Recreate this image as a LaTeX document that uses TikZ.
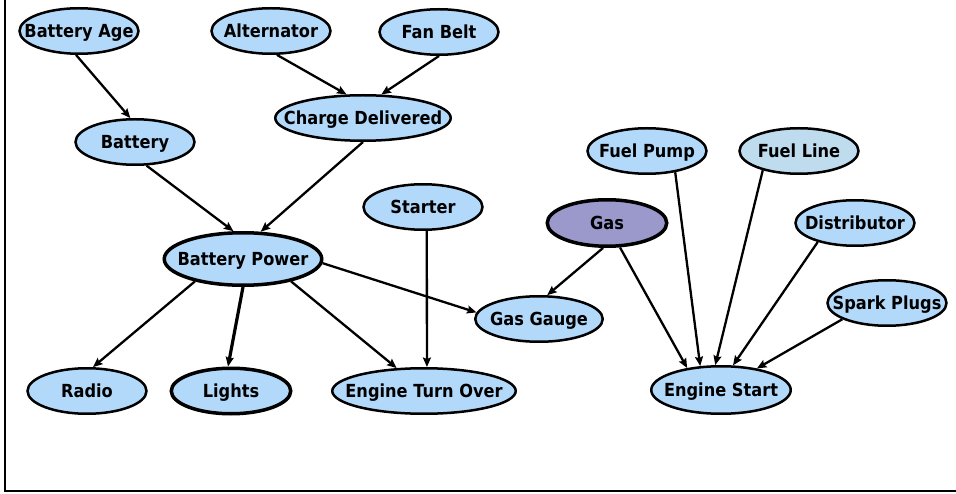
\documentclass[tikz,border=0pt]{standalone}
\usepackage{fontspec}
\setmainfont{DejaVu Sans}[FakeStretch=0.9]
\usetikzlibrary{shapes.geometric,arrows.meta}
\definecolor{varblue}{RGB}{178,217,250}
\definecolor{lineblue}{RGB}{190,220,238}
\definecolor{gaspurple}{RGB}{155,152,204}
\newcommand{\varlabel}[1]{\makebox[0pt][c]{#1}}
\begin{document}
\begin{tikzpicture}[x=1pt,y=-1pt,
  var/.style={ellipse, draw=black, line width=2.5pt, fill=varblue, inner sep=0pt,
    minimum width=119pt, minimum height=45.5pt, text height=13.6pt, text depth=0pt,
    font=\bfseries\fontsize{18}{21}\selectfont},
  key/.style={var, line width=3.5pt},
  link/.style={line width=2.3pt, -{Stealth[length=9.5pt,width=8pt,inset=1.5pt]}},
  strong/.style={link, line width=3.2pt}]
\useasboundingbox (0,0) rectangle (956,494);

% frame
\draw[line width=2pt] (4.5,0) -- (4.5,491) -- (956,491);

% variables
\node[var] (age) at (79,31) {\varlabel{Battery Age}};
\node[var] (alt) at (271,31) {\varlabel{Alternator}};
\node[var] (belt) at (439,32) {\varlabel{Fan Belt}};
\node[var, minimum width=175.5pt] (charge) at (363,118) {\varlabel{Charge Delivered}};
\node[var] (batt) at (135,142) {\varlabel{Battery}};
\node[key, minimum width=157.5pt, minimum height=52.5pt] (power) at (243,259) {\varlabel{Battery Power}};
\node[var] (starter) at (423,207) {\varlabel{Starter}};
\node[key, fill=gaspurple, minimum width=119.5pt, minimum height=46.5pt] (gas) at (607,223) {\varlabel{Gas}};
\node[var] (pump) at (647,151) {\varlabel{Fuel Pump}};
\node[var, fill=lineblue] (fline) at (799,151) {\varlabel{Fuel Line}};
\node[var] (dist) at (855,223) {\varlabel{Distributor}};
\node[var] (plugs) at (887,303) {\varlabel{Spark Plugs}};
\node[var, minimum width=127.5pt] (gauge) at (539,319) {\varlabel{Gas Gauge}};
\node[var] (radio) at (87,391) {\varlabel{Radio}};
\node[key, minimum width=119.5pt] (lights) at (231,391) {\varlabel{Lights}};
\node[var, minimum width=183.5pt] (turn) at (424,391) {\varlabel{Engine Turn Over}};
\node[var, minimum width=139.5pt, minimum height=47.5pt] (start) at (721,390) {\varlabel{Engine Start}};

% dependencies
\draw[link] (age.-97) -- (batt.101);
\draw[link] (alt.-76) -- (charge.125);
\draw[link] (belt.-90) -- (charge.52);
\draw[link] (batt.-64) -- (power.109);
\draw[link] (charge.-90) -- (power.57);
\draw[link] (power.-155) -- (radio.76);
\draw[strong] (power.-90) -- (lights.97);
\draw[link] (power.-25) -- (turn.140);
\draw[link] (power.-3) -- (gauge.174);
\draw[link] (starter.-81) -- (turn.83);
\draw[link] (gas.-99) -- (gauge.71);
\draw[link] (gas.-62) -- (start.147);
\draw[link] (pump.-37) -- (start.131);
\draw[link] (fline.-152) -- (start.103);
\draw[link] (dist.-153) -- (start.64);
\draw[link] (plugs.-160) -- (start.31);
\end{tikzpicture}
\end{document}
